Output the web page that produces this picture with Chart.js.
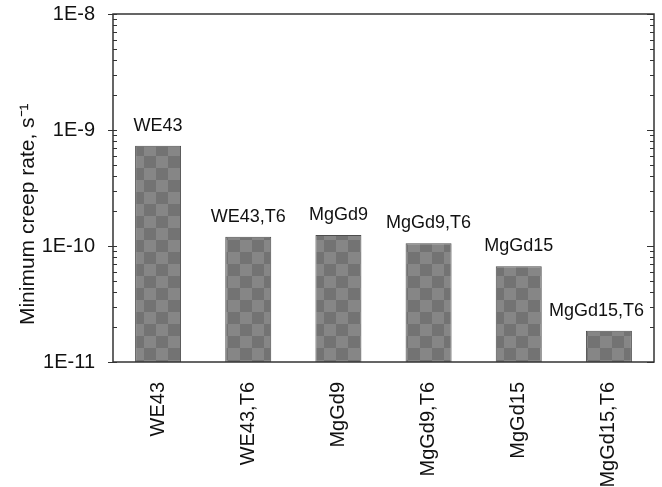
<!DOCTYPE html>
<html>
<head>
<meta charset="utf-8">
<script src="https://cdn.jsdelivr.net/npm/chart.js@4.4.1/dist/chart.umd.min.js"></script>
<style>
  html, body { margin: 0; padding: 0; background: #fff; }
  #chart { display: block; }
</style>
</head>
<body>
<canvas id="chart" width="662" height="487"></canvas>
<script>
const categories = ['WE43', 'WE43,T6', 'MgGd9', 'MgGd9,T6', 'MgGd15', 'MgGd15,T6'];
const creepRates = [7.3e-10, 1.2e-10, 1.245e-10, 1.055e-10, 6.7e-11, 1.86e-11];
const yTickValues = [1e-11, 1e-10, 1e-9, 1e-8];
const yTickLabels = ['1E-11', '1E-10', '1E-9', '1E-8'];

// checkerboard fill like the original bars
function checkerPattern() {
    const c = document.createElement('canvas');
    c.width = 24;
    c.height = 24;
    const g = c.getContext('2d');
    g.fillStyle = '#737373';
    g.fillRect(0, 0, 24, 24);
    g.fillStyle = '#868686';
    g.fillRect(0, 0, 12, 12);
    g.fillRect(12, 12, 12, 12);
    return g.createPattern(c, 'repeat');
}

// frame and log ticks (major outward on left, inward on right)
const framePlugin = {
    id: 'frame',
    afterDraw(chart) {
        const ctx = chart.ctx;
        const { left, right, top, bottom } = chart.chartArea;
        const y = chart.scales.y;
        ctx.save();
        ctx.strokeStyle = '#333';
        ctx.lineWidth = 1.5;
        ctx.strokeRect(left, top, right - left, bottom - top);
        ctx.lineWidth = 1.2;
        ctx.beginPath();
        for (let e = -11; e <= -8; e++) {
            for (let m = 1; m <= 9; m++) {
                if (e === -8 && m > 1) break;
                const py = Math.round(y.getPixelForValue(m * Math.pow(10, e))) + 0.5;
                if (m === 1) {
                    ctx.moveTo(left - 5, py); ctx.lineTo(left + 4, py);
                    ctx.moveTo(right - 7, py); ctx.lineTo(right, py);
                } else {
                    ctx.moveTo(left, py); ctx.lineTo(left + 4, py);
                    ctx.moveTo(right - 4, py); ctx.lineTo(right, py);
                }
            }
        }
        ctx.stroke();
        ctx.restore();
    }
};

// sample names over each bar, kept inside the frame
const barLabelPlugin = {
    id: 'barLabels',
    afterDatasetsDraw(chart) {
        const ctx = chart.ctx;
        const meta = chart.getDatasetMeta(0);
        const right = chart.chartArea.right;
        ctx.save();
        ctx.font = '18px "Liberation Sans", Arial, sans-serif';
        ctx.fillStyle = '#111';
        ctx.textAlign = 'center';
        ctx.textBaseline = 'alphabetic';
        meta.data.forEach((bar, i) => {
            const w = ctx.measureText(categories[i]).width;
            const x = Math.min(bar.x, right - 10 - w / 2);
            ctx.fillText(categories[i], x, bar.y - 15);
        });
        ctx.restore();
    }
};

const ctx = document.getElementById('chart').getContext('2d');
new Chart(ctx, {
    type: 'bar',
    data: {
        labels: categories,
        datasets: [{
            data: creepRates,
            backgroundColor: checkerPattern(),
            borderColor: '#4d4d4d',
            borderWidth: 1,
            barPercentage: 0.51,
            categoryPercentage: 1.0
        }]
    },
    options: {
        responsive: false,
        animation: false,
        layout: { padding: { top: 14, right: 8, left: 0, bottom: 0 } },
        plugins: {
            legend: { display: false },
            tooltip: { enabled: false }
        },
        scales: {
            x: {
                type: 'category',
                grid: { display: false },
                border: { display: false },
                ticks: {
                    minRotation: 90,
                    maxRotation: 90,
                    padding: 12,
                    color: '#111',
                    font: { family: '"Liberation Sans", Arial, sans-serif', size: 20 }
                },
                afterFit(scale) {
                    scale.height = 125;
                    scale.paddingLeft = 0;
                    scale.paddingRight = 0;
                }
            },
            y: {
                type: 'logarithmic',
                min: 1e-11,
                max: 1e-8,
                grid: { display: false },
                border: { display: false },
                afterBuildTicks(scale) {
                    scale.ticks = yTickValues.map(v => ({ value: v, major: true }));
                },
                ticks: {
                    padding: 10,
                    color: '#111',
                    font: { family: '"Liberation Sans", Arial, sans-serif', size: 20 },
                    callback(value) {
                        const i = yTickValues.findIndex(v => Math.abs(v - value) / v < 1e-6);
                        return i >= 0 ? yTickLabels[i] : '';
                    }
                },
                title: {
                    display: true,
                    text: 'Minimum creep rate, s⁻¹         ',
                    color: '#111',
                    font: { family: '"Liberation Sans", Arial, sans-serif', size: 21 },
                    padding: { top: 16, bottom: 0 }
                },
                afterFit(scale) {
                    scale.width = 113;
                    scale.paddingTop = 0;
                    scale.paddingBottom = 0;
                }
            }
        }
    },
    plugins: [framePlugin, barLabelPlugin]
});
</script>
</body>
</html>
